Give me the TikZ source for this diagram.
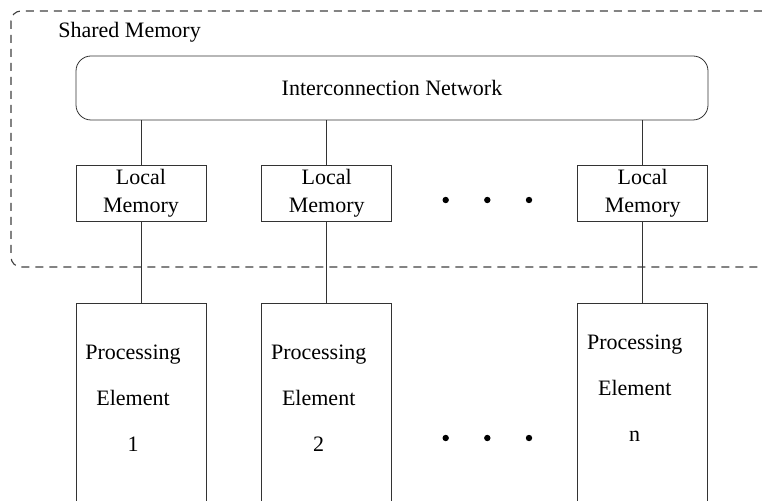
\documentclass[tikz,border=0pt]{standalone}
\usepackage{fontspec}
\setmainfont{Liberation Serif}
\usetikzlibrary{positioning}
\tikzset{
  lmbox/.style={draw=black!80,minimum width=65pt,minimum height=28pt,inner sep=0pt,
    align=center,font=\fontsize{11}{14}\selectfont},
  pebox/.style={draw=black!80,minimum width=65pt,minimum height=120pt,inner sep=0pt},
  petext/.style={align=center,inner sep=0pt,font=\fontsize{11}{23}\selectfont},
  link/.style={draw=black!80}
}
\begin{document}
\begin{tikzpicture}[x=0.5pt,y=-0.5pt,font=\fontsize{11}{13}\selectfont]
\clip (0,0) rectangle (763,501);
% shared memory region
\draw[black!75,line width=0.55pt,dash pattern=on 4pt off 3pt,rounded corners=5pt] (11,11) rectangle (800,267);
\node[anchor=west,inner sep=0pt] (shm) at (58,32) {Shared Memory};
% network
\node[draw=black!80,rounded corners=7.5pt,minimum width=316pt,minimum height=32pt] (icn) at (392,88) {Interconnection Network};
% local memories
\node[lmbox] (lm1) at (141,193) {Local\\Memory};
\node[lmbox] (lm2) at (326.7,193) {Local\\Memory};
\node[lmbox] (lmn) at (642.7,193) {Local\\Memory};
% processing elements
\node[pebox,anchor=north] (pe1) at (141,303) {};
\node[pebox,anchor=north] (pe2) at (326.7,303) {};
\node[pebox,anchor=north] (pen) at (642.7,303) {};
\node[petext] (pt1) at ([xshift=-4pt,yshift=-47.5pt]pe1.north) {Processing\\Element\\1};
\node[petext] (pt2) at ([xshift=-4pt,yshift=-47.5pt]pe2.north) {Processing\\Element\\2};
\node[petext] (ptn) at ([xshift=-4pt,yshift=-42.5pt]pen.north) {Processing\\Element\\n};
% connections
\draw[link] (icn.south -| lm1) -- (lm1.north);
\draw[link] (icn.south -| lm2) -- (lm2.north);
\draw[link] (icn.south -| lmn) -- (lmn.north);
\draw[link] (lm1.south) -- (pe1.north);
\draw[link] (lm2.south) -- (pe2.north);
\draw[link] (lmn.south) -- (pen.north);
% dots
\fill (445.7,200) circle (1.6pt) (487.3,200) circle (1.6pt) (529,200) circle (1.6pt);
\fill (445.7,438) circle (1.6pt) (487.3,438) circle (1.6pt) (529,438) circle (1.6pt);
\end{tikzpicture}
\end{document}
